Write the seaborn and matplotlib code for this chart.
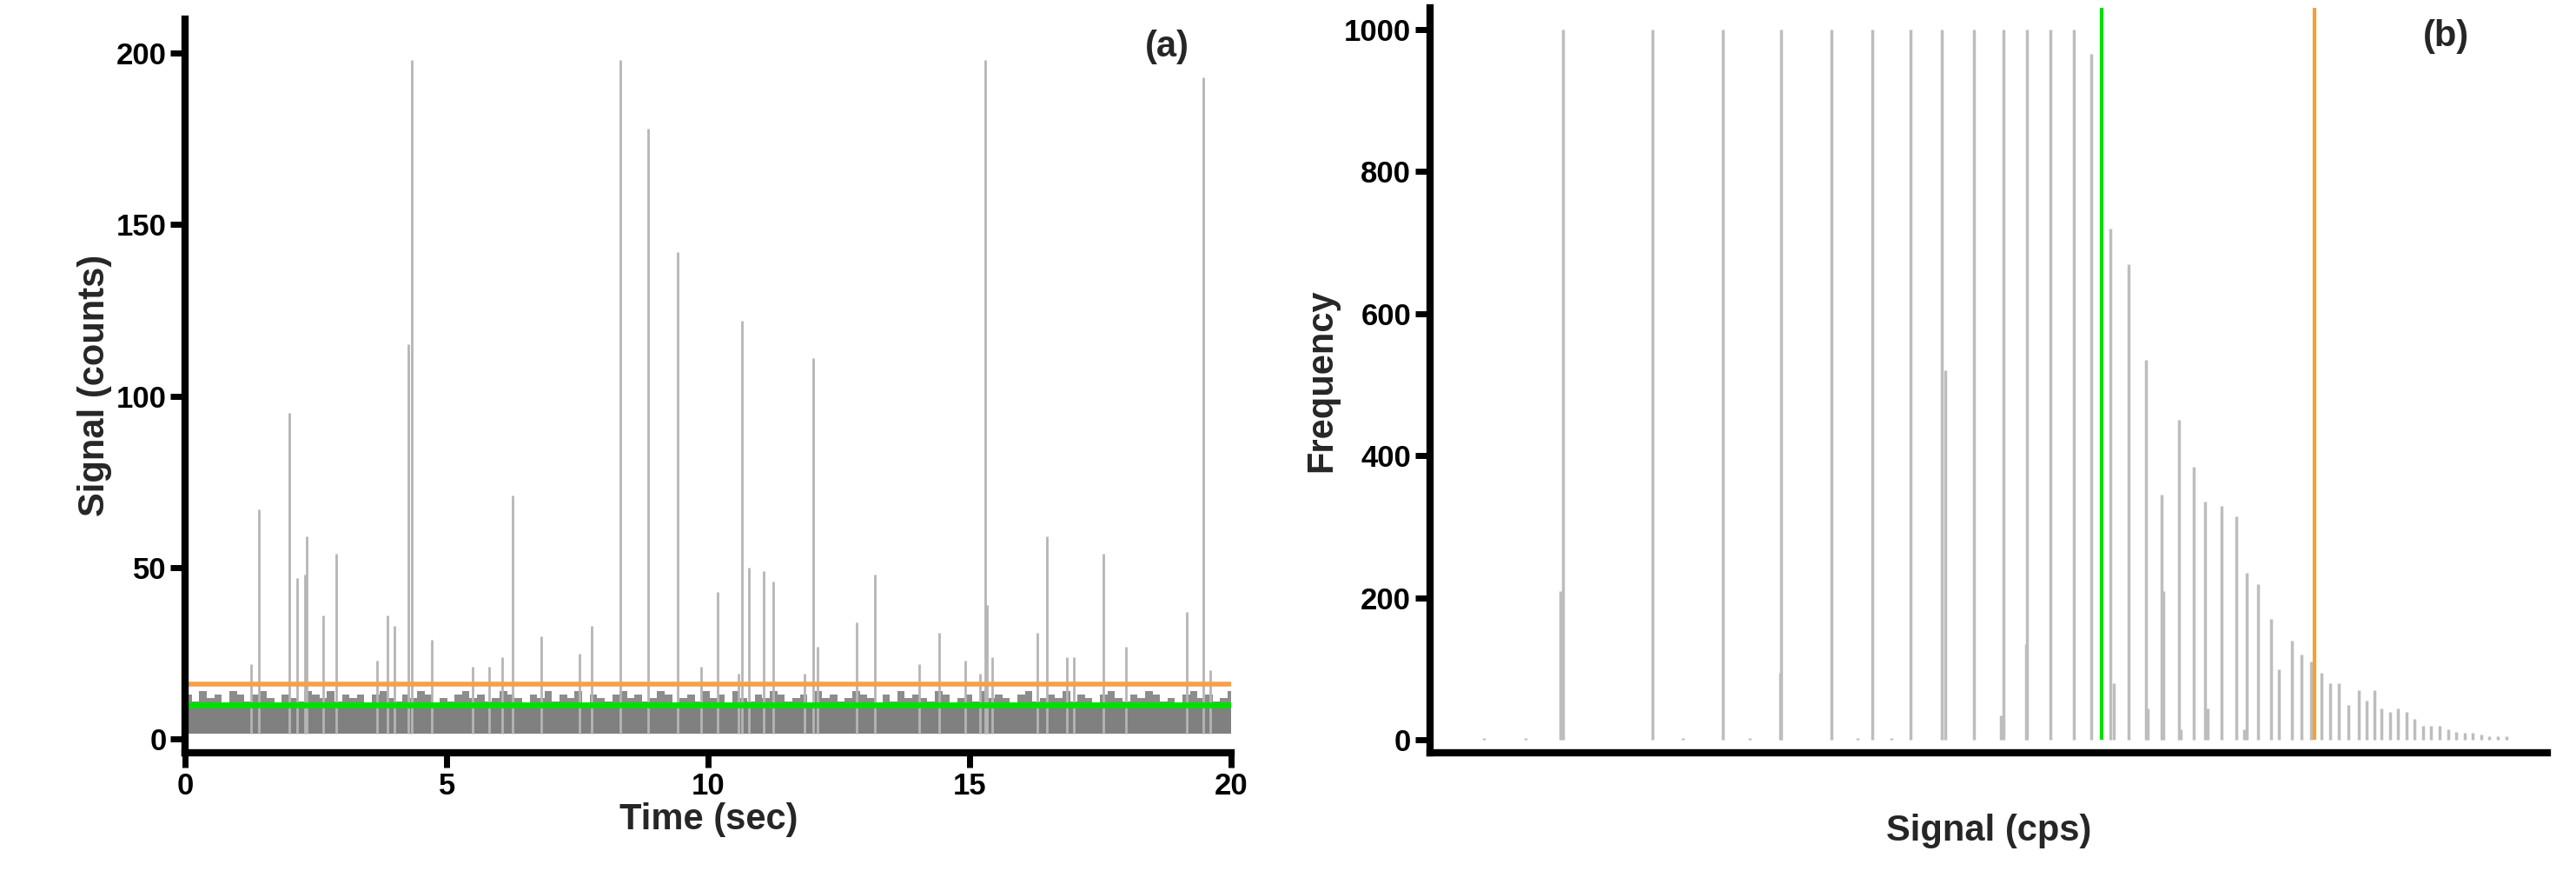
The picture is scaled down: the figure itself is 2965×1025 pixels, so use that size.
import matplotlib
matplotlib.use("Agg")
import matplotlib.pyplot as plt
import seaborn as sns
import numpy as np

sns.set_style("white")
plt.rcParams['font.family'] = ['Liberation Sans', 'DejaVu Sans']
plt.rcParams['font.weight'] = 'bold'

# Panel (a): spikes (time in s, counts)
spike_t = [1.26, 1.41, 1.98, 2.13, 2.29, 2.32, 2.64, 2.89, 3.67, 3.86, 3.99, 4.27, 4.33, 4.71,
           5.49, 5.81, 6.06, 6.25, 6.81, 7.53, 7.76, 8.32, 8.85, 9.42, 9.86, 10.17, 10.58, 10.64,
           10.77, 11.05, 11.24, 11.83, 12.01, 12.08, 12.84, 13.18, 14.03, 14.41, 14.91, 15.20,
           15.29, 15.32, 15.42, 16.29, 16.48, 16.86, 16.99, 17.55, 17.99, 19.15, 19.46, 19.59]
spike_h = [22, 67, 95, 47, 48, 59, 36, 54, 23, 36, 33, 115, 198, 29,
           21, 21, 24, 71, 30, 25, 33, 198, 178, 142, 21, 43, 19, 122,
           50, 49, 46, 19, 111, 27, 34, 48, 22, 31, 23, 19,
           198, 39, 24, 31, 59, 24, 24, 54, 27, 37, 193, 20]
# noise band tops (counts) sampled along time 0..20
noise_top = [13, 11, 14, 12, 13, 10, 14, 13, 11, 13, 14, 12, 10, 13, 12, 11, 14, 13, 12, 14,
             11, 13, 12, 13, 10, 13, 14, 12, 11, 13, 12, 14, 13, 10, 12, 11, 13, 14, 12, 13,
             11, 12, 14, 13, 12, 10, 13, 12, 14, 11, 13, 12, 14, 10, 13, 12, 11, 13, 14, 12,
             13, 11, 12, 14, 13, 10, 12, 13, 11, 14, 12, 13, 10, 14, 12, 11, 13, 12, 14, 13,
             11, 12, 13, 10, 14, 12, 13, 11, 12, 14, 13, 12, 10, 13, 11, 14, 12, 13, 12, 11,
             14, 13, 10, 12, 13, 11, 14, 12, 13, 12, 10, 13, 14, 11, 12, 13, 12, 14, 11, 13,
             12, 10, 13, 14, 12, 11, 13, 12, 14, 13, 11, 12, 10, 13, 14, 12, 13, 11, 12, 14]
band_low, band_mid = 1.5, 9
green_a, orange_a = 10, 16

# Panel (b): histogram bars (position, frequency)
hist_x = [345, 453, 538, 608, 668, 717, 763, 801, 840, 875, 904, 932, 960, 981,
          1004, 1026, 1047, 1066, 1086, 1104, 1118, 1138, 1155, 1168, 1182, 1197, 1207, 1222,
          1234, 1245, 1258, 1268, 1279, 1290, 1303, 1312, 1322, 1330, 1340, 1350, 1360, 1370,
          1380, 1390, 1400, 1410, 1420, 1430, 1440, 1450, 1460, 1470, 1480,
          342, 607, 805, 872, 902, 1008, 1049, 1068, 1089, 1121, 1165, 250, 300, 490, 570, 700, 740]
hist_y = [1000, 1000, 1000, 1000, 1000, 1000, 1000, 1000, 1000, 1000, 1000, 1000, 1000, 965,
          720, 670, 535, 345, 450, 385, 335, 330, 315, 235, 220, 170, 100, 140,
          120, 110, 95, 80, 80, 50, 70, 55, 70, 45, 40, 45, 40, 30,
          20, 20, 20, 15, 12, 10, 10, 8, 6, 5, 5,
          210, 95, 520, 35, 135, 80, 45, 210, 15, 45, 15, 3, 3, 3, 3, 3, 3]
green_b, orange_b = 993, 1249

fig = plt.figure(figsize=(29.65, 10.25), dpi=100)
axa = fig.add_axes([0.072, 0.155, 0.406, 0.824])
axb = fig.add_axes([0.555, 0.155, 0.434, 0.836])

t_noise = np.linspace(0.05, 20, len(noise_top))
axa.fill_between(t_noise, band_low, noise_top, step='mid', color='#8c8c8c', lw=0)
axa.fill_between([0.05, 20], band_low, band_mid, color='#808080', lw=0)
axa.vlines(spike_t, band_low, spike_h, color='#b5b5b5', lw=2)
axa.axhline(orange_a, xmin=0.0025, color='#f5a04a', lw=4)
axa.axhline(green_a, xmin=0.0025, color='#00e000', lw=5)
axa.set_xlim(0, 20)
axa.set_ylim(-4, 210)
axa.set_xticks([0, 5, 10, 15, 20])
axa.set_yticks([0, 50, 100, 150, 200])
axa.set_xlabel('Time (sec)', fontsize=30, fontweight='bold', labelpad=2)
axa.set_ylabel('Signal (counts)', fontsize=30, fontweight='bold')
axa.text(0.96, 0.985, '(a)', transform=axa.transAxes, fontsize=30, fontweight='bold', ha='right', va='top')

axb.vlines(hist_x, 0, hist_y, color='#bdbdbd', lw=2.5)
axb.vlines([green_b], 0, 1030, color='#00e000', lw=3)
axb.vlines([orange_b], 0, 1030, color='#f5a030', lw=3)
axb.set_xlim(185, 1530)
axb.set_ylim(-18, 1030)
axb.set_xticks([])
axb.set_yticks([0, 200, 400, 600, 800, 1000])
axb.set_xlabel('Signal (cps)', fontsize=30, fontweight='bold', labelpad=50)
axb.set_ylabel('Frequency', fontsize=30, fontweight='bold')
axb.text(0.93, 0.985, '(b)', transform=axb.transAxes, fontsize=30, fontweight='bold', ha='right', va='top')

for ax in (axa, axb):
    sns.despine(ax=ax)
    for s in ('left', 'bottom'):
        ax.spines[s].set_linewidth(6)
        ax.spines[s].set_color('black')
    ax.tick_params(axis='both', which='both', direction='out', length=12, width=5,
                   labelsize=25, colors='black', left=True, bottom=True)
    for lab in ax.get_xticklabels() + ax.get_yticklabels():
        lab.set_fontweight('bold')
axb.tick_params(axis='x', length=0)

fig.savefig('out.png', dpi=100)
